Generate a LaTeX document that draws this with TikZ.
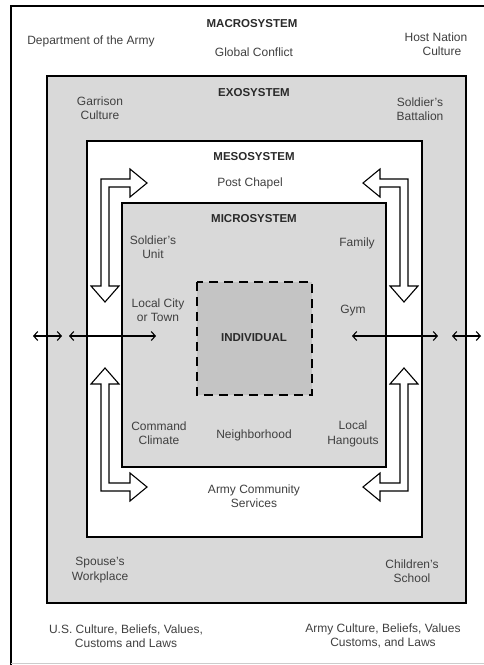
\documentclass[tikz,border=0pt]{standalone}
\usepackage{fontspec}
\setmainfont{Liberation Sans}
\usetikzlibrary{arrows.meta}
\definecolor{txt}{HTML}{404040}
\definecolor{ttl}{HTML}{2A2A2A}
\definecolor{lgray}{HTML}{D9D9D9}
\definecolor{dgray}{HTML}{C4C4C4}
\tikzset{
  lbl/.style={text=txt,align=center,font=\fontsize{12}{14.5}\selectfont,inner sep=0pt},
  ttlbl/.style={text=ttl,font=\bfseries\fontsize{11.5}{14}\selectfont,inner sep=0pt},
  sysbox/.style={draw=black},
  blockarrow/.style={draw=black,fill=white,line width=1.1pt,line join=miter},
  thinarrow/.style={{Straight Barb[length=4pt,width=9pt]}-{Straight Barb[length=4pt,width=9pt]},line width=1.1pt}
}
\begin{document}
\begin{tikzpicture}[x=1pt,y=-1pt]
\useasboundingbox (0,0) rectangle (484,665);
\fill[white] (0,0) rectangle (484,665);
% outer frame
\draw[line width=1.5pt] (484,6) -- (11,6) -- (11,665);
\draw[line width=0.8pt,draw=gray!40] (11,663) -- (484,663);
% exosystem
\draw[sysbox,fill=lgray,line width=2.6pt] (47,76) rectangle (466,603);
% mesosystem
\draw[sysbox,fill=white,line width=1.8pt] (87,141) rectangle (422,537);
% microsystem
\draw[sysbox,fill=lgray,line width=2.3pt] (122,203) rectangle (386,467);
% individual
\draw[fill=dgray,line width=2.5pt,dash pattern=on 9pt off 6pt] (197,282) rectangle (312,395);

% block arrows
\draw[blockarrow] (101,179) -- (130,179) -- (130,169) -- (147,183) -- (130,197) -- (130,187) -- (109,187) -- (109,286) -- (119,286) -- (105,302) -- (91,286) -- (101,286) -- cycle;
\draw[blockarrow] (101,491) -- (101,384) -- (91,384) -- (105,368) -- (119,384) -- (109,384) -- (109,483) -- (130,483) -- (130,473) -- (147,487) -- (130,501) -- (130,491) -- cycle;
\draw[blockarrow] (408,179) -- (380,179) -- (380,169) -- (363,183) -- (380,197) -- (380,187) -- (400,187) -- (400,286) -- (390,286) -- (404,302) -- (418,286) -- (408,286) -- cycle;
\draw[blockarrow] (408,491) -- (408,384) -- (418,384) -- (404,368) -- (390,384) -- (400,384) -- (400,483) -- (380,483) -- (380,473) -- (363,487) -- (380,501) -- (380,491) -- cycle;

% thin arrows
\coordinate (la1) at (33,336); \coordinate (la2) at (62,336);
\coordinate (lb1) at (69,336); \coordinate (lb2) at (156,336);
\coordinate (rb1) at (352,336); \coordinate (rb2) at (438,336);
\coordinate (ra1) at (452,336); \coordinate (ra2) at (481,336);
\draw[thinarrow] (la1) -- (la2);
\draw[thinarrow] (lb1) -- (lb2);
\draw[thinarrow] (rb1) -- (rb2);
\draw[thinarrow] (ra1) -- (ra2);

% titles
\node[ttlbl] (macro) at (252,24) {MACROSYSTEM};
\node[ttlbl] (exo) at (254,93) {EXOSYSTEM};
\node[ttlbl] (meso) at (254,157) {MESOSYSTEM};
\node[ttlbl] (micro) at (254,219) {MICROSYSTEM};
\node[ttlbl] (indiv) at (254,338) {INDIVIDUAL};

% macro labels
\node[lbl] (dept) at (91,41) {Department of the Army};
\node[lbl] (glob) at (254,52) {Global Conflict};
\node[lbl] (host) at (436,44) {Host Nation\\\hspace*{12pt}Culture};
\node[lbl] (usc) at (126,636) {U.S. Culture, Beliefs, Values,\\Customs and Laws};
\node[lbl] (armyc) at (383,636) {Army Culture, Beliefs, Values\\Customs, and Laws};

% exo labels
\node[lbl] (garr) at (100,108) {Garrison\\Culture};
\node[lbl] (batt) at (420,109) {Soldier's\\Battalion};
\node[lbl] (spouse) at (100,570) {Spouse's\\Workplace};
\node[lbl] (child) at (412,571) {Children's\\School};

% meso labels
\node[lbl] (chapel) at (250,183) {Post Chapel};
\node[lbl] (acs) at (254,496) {Army Community\\Services};

% micro labels
\node[lbl] (unit) at (153,247) {Soldier's\\Unit};
\node[lbl] (family) at (357,243) {Family};
\node[lbl] (city) at (158,310) {Local City\\or Town};
\node[lbl] (gym) at (353,311) {Gym};
\node[lbl] (cmd) at (159,433) {Command\\Climate};
\node[lbl] (neigh) at (254,435) {Neighborhood};
\node[lbl] (hang) at (353,434) {Local\\Hangouts};
\end{tikzpicture}
\end{document}
